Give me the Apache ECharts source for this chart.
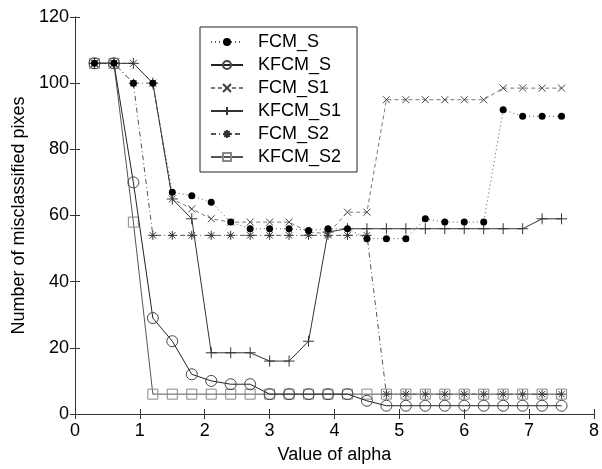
<!DOCTYPE html>
<html>
<head>
<meta charset="utf-8">
<script src="https://cdn.jsdelivr.net/npm/echarts@6/dist/echarts.min.js"></script>
<style>
  html, body { margin: 0; padding: 0; background: #fff; }
  #chart { width: 602px; height: 469px; }
</style>
</head>
<body>
<div id="chart"></div>
<script>
// values of alpha (x) and misclassified pixels for each method
var alpha  = [0.3, 0.6, 0.9, 1.2, 1.5, 1.8, 2.1, 2.4, 2.7, 3.0, 3.3, 3.6, 3.9, 4.2, 4.5, 4.8, 5.1, 5.4, 5.7, 6.0, 6.3, 6.6, 6.9, 7.2, 7.5];
var fcmS   = [106, 106, 100, 100, 67, 66, 64, 58, 56, 56, 56, 55.5, 56, 56, 53, 53, 53, 59, 58, 58, 58, 92, 90, 90, 90];
var kfcmS  = [106, 106, 70, 29, 22, 12, 10, 9, 9, 6, 6, 6, 6, 6, 4, 2.5, 2.5, 2.5, 2.5, 2.5, 2.5, 2.5, 2.5, 2.5, 2.5];
var fcmS1  = [106, 106, 106, 100, 65, 62, 59, 58, 58, 58, 58, 55, 54.5, 61, 61, 95, 95, 95, 95, 95, 95, 98.5, 98.5, 98.5, 98.5];
var kfcmS1 = [106, 106, 106, 100, 65, 59, 18.5, 18.5, 18.5, 16, 16, 22, 55, 56, 56, 56, 56, 56, 56, 56, 56, 56, 56, 59, 59];
var fcmS2  = [106, 106, 100, 54, 54, 54, 54, 54, 54, 54, 54, 54, 54, 54, 54, 6, 6, 6, 6, 6, 6, 6, 6, 6, 6];
var kfcmS2 = [106, 106, 58, 6, 6, 6, 6, 6, 6, 6, 6, 6, 6, 6, 6, 6, 6, 6, 6, 6, 6, 6, 6, 6, 6];
var names  = ['FCM_S', 'KFCM_S', 'FCM_S1', 'KFCM_S1', 'FCM_S2', 'KFCM_S2'];

// marker shapes (drawn as strokes)
var plusPath = 'path://M5,0L5,10M0,5L10,5';
var crossPath = 'path://M0,0L10,10M10,0L0,10';
var starPath = 'path://M5,0L5,10M0,5L10,5M1.5,1.5L8.5,8.5M8.5,1.5L1.5,8.5';

function pairs(ys) {
  return alpha.map(function (x, i) { return [x, ys[i]]; });
}

var font = 'Liberation Sans, Arial, sans-serif';
var chart = echarts.init(document.getElementById('chart'));

function axisBase(show) {
  return {
    axisLine: { show: true, lineStyle: { color: '#333', width: 1 } },
    axisTick: { show: true, inside: true, length: 5, lineStyle: { color: '#333' } },
    axisLabel: { show: show, color: '#000', fontSize: 18, fontFamily: font },
    splitLine: { show: false }
  };
}

chart.setOption({
  backgroundColor: '#fff',
  animation: false,
  grid: { left: 75, right: 8, top: 17, bottom: 52, containLabel: false },
  legend: {
    data: names,
    orient: 'vertical',
    left: 200,
    top: 27,
    padding: [6, 16, 6, 10],
    itemWidth: 32,
    itemHeight: 10,
    itemGap: 5,
    backgroundColor: '#fff',
    borderColor: '#222',
    borderWidth: 1,
    borderRadius: 0,
    textStyle: { fontSize: 18, fontFamily: font, color: '#000', lineHeight: 18, padding: [0, 0, 0, 10] }
  },
  xAxis: [
    Object.assign(axisBase(true), {
      type: 'value', min: 0, max: 8, interval: 1, position: 'bottom',
      name: 'Value of alpha', nameLocation: 'middle', nameGap: 32,
      nameTextStyle: { fontSize: 18, fontFamily: font, color: '#000' }
    }),
    Object.assign(axisBase(false), { type: 'value', min: 0, max: 8, interval: 1, position: 'top' })
  ],
  yAxis: [
    Object.assign(axisBase(true), {
      type: 'value', min: 0, max: 120, interval: 20, position: 'left',
      axisLabel: { color: '#000', fontSize: 18, fontFamily: font, margin: 6 },
      name: 'Number of misclassified pixes', nameLocation: 'middle', nameGap: 38,
      nameTextStyle: { fontSize: 18, fontFamily: font, color: '#000' }
    }),
    Object.assign(axisBase(false), { type: 'value', min: 0, max: 120, interval: 20, position: 'right' })
  ],
  series: [
    {
      name: 'FCM_S', type: 'line', z: 6, data: pairs(fcmS),
      symbol: 'circle', symbolSize: 7,
      itemStyle: { color: '#000', borderColor: '#000', borderWidth: 0 },
      lineStyle: { color: '#555', width: 1, type: [1, 3] }
    },
    {
      name: 'KFCM_S', type: 'line', z: 3, data: pairs(kfcmS),
      symbol: 'circle', symbolSize: 11, showAllSymbol: true,
      itemStyle: { color: 'rgba(0,0,0,0)', borderColor: '#444', borderWidth: 1 },
      lineStyle: { color: '#222', width: 1 }
    },
    {
      name: 'FCM_S1', type: 'line', z: 4, data: pairs(fcmS1),
      symbol: crossPath, symbolSize: 7,
      itemStyle: { color: 'none', borderColor: '#444', borderWidth: 1 },
      lineStyle: { color: '#777', width: 1, type: [4, 3] }
    },
    {
      name: 'KFCM_S1', type: 'line', z: 4, data: pairs(kfcmS1),
      symbol: plusPath, symbolSize: 11,
      itemStyle: { color: 'none', borderColor: '#333', borderWidth: 1 },
      lineStyle: { color: '#333', width: 1 }
    },
    {
      name: 'FCM_S2', type: 'line', z: 5, data: pairs(fcmS2),
      symbol: starPath, symbolSize: 9,
      itemStyle: { color: 'none', borderColor: '#333', borderWidth: 1 },
      lineStyle: { color: '#555', width: 1, type: [5, 3, 1, 3] }
    },
    {
      name: 'KFCM_S2', type: 'line', z: 2, data: pairs(kfcmS2),
      symbol: 'rect', symbolSize: 10,
      itemStyle: { color: 'rgba(0,0,0,0)', borderColor: '#888', borderWidth: 1 },
      lineStyle: { color: '#555', width: 1 }
    }
  ]
});
</script>
</body>
</html>
